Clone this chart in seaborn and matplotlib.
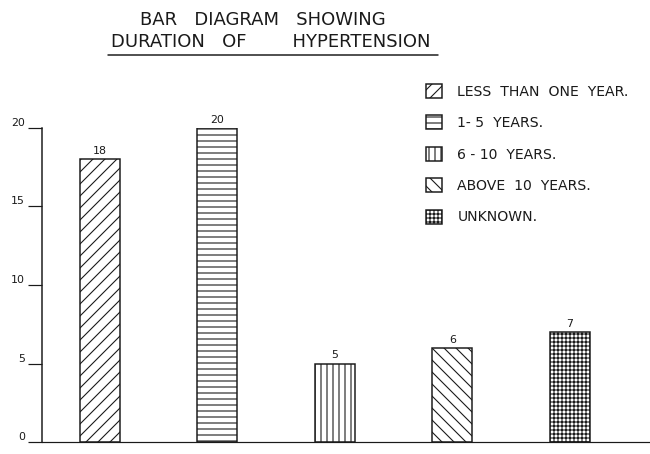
import seaborn as sns
import matplotlib.pyplot as plt
from matplotlib.lines import Line2D

# duração da hipertensão (número de pacientes)
categorias = ['LESS  THAN  ONE  YEAR.', '1- 5  YEARS.', '6 - 10  YEARS.',
              'ABOVE  10  YEARS.', 'UNKNOWN.']
valores = [18, 20, 5, 6, 7]
hachuras = ['//', '--', '||', '\\\\', '+++']
marcas_y = [0, 5, 10, 15, 20]

sns.set_style('white')
plt.rcParams['font.family'] = ['DejaVu Sans']
plt.rcParams['hatch.linewidth'] = 1.1
plt.rcParams['hatch.color'] = '#1a1a1a'

fig = plt.figure(figsize=(650 / 72, 454 / 72), dpi=72)
ax = fig.add_axes([42 / 650, 12 / 454, 608 / 650, 314 / 454])

sns.barplot(x=categorias, y=valores, hue=categorias, palette=['white'] * 5,
            width=0.34, edgecolor='#1a1a1a', linewidth=1.5, legend=False, ax=ax)

for barra, h in zip(ax.patches, hachuras):
    barra.set_hatch(h)

for c in ax.containers:
    ax.bar_label(c, fontsize=11, padding=3, color='#1a1a1a')

ax.set_xlim(-0.49, 4.68)
ax.set_ylim(0, 20)
ax.set_xticks([])
ax.set_yticks(marcas_y)
ax.tick_params(axis='y', direction='out', length=14, width=1.2, pad=3,
               labelsize=11, colors='#1a1a1a', left=True)
for lab in ax.get_yticklabels():
    lab.set_verticalalignment('bottom')
ax.set_xlabel('')
ax.set_ylabel('')

for s in ['top', 'right']:
    ax.spines[s].set_visible(False)
ax.spines['left'].set_linewidth(1.5)
ax.spines['bottom'].set_linewidth(1.2)
ax.spines['left'].set_color('#1a1a1a')
ax.spines['bottom'].set_color('#1a1a1a')

# título sublinhado
fig.text(0.405, 1 - 20 / 454, 'BAR   DIAGRAM   SHOWING', ha='center', va='center',
         fontsize=18, color='#1a1a1a')
fig.text(0.417, 1 - 42 / 454, 'DURATION   OF        HYPERTENSION', ha='center',
         va='center', fontsize=18, color='#1a1a1a')
fig.add_artist(Line2D([108 / 650, 438 / 650], [1 - 55 / 454, 1 - 55 / 454],
                      color='#1a1a1a', linewidth=1.5))

ax.legend(handles=ax.patches[:5], labels=categorias, loc='upper left',
          bbox_to_anchor=(426 / 650, 1 - 84 / 454), bbox_transform=fig.transFigure,
          frameon=False, fontsize=14, borderpad=0, borderaxespad=0,
          handlelength=1.14, handleheight=1.14, handletextpad=1.1,
          labelspacing=1.2, labelcolor='#1a1a1a')

plt.savefig('out.png', dpi=72)
